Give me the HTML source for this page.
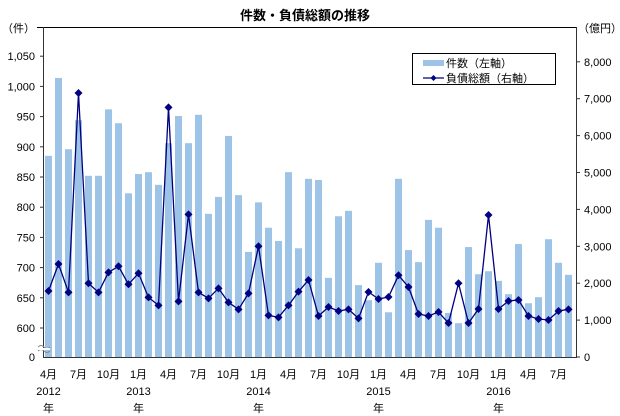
<!DOCTYPE html><html><head><meta charset="utf-8"><style>body{margin:0;background:#fff}svg{display:block;font-family:"Liberation Sans","Noto Sans CJK JP",sans-serif}</style></head><body>
<svg id="s" width="620" height="416" xmlns="http://www.w3.org/2000/svg"></svg>
<script>
var bars=[885,1014,896,944,852,852,962,939,823,855,858,837,906,951,906,953,789,817,918,820,726,808,766,744,858,732,847,845,683,785,794,671,646,708,626,847,729,709,779,766,625,608,734,689,694,678,656,739,641,651,747,708,688];
var debt=[1789,2520,1753,7155,1997,1753,2295,2458,1970,2268,1617,1400,6766,1509,3866,1753,1590,1861,1481,1292,1725,3000,1129,1075,1400,1770,2087,1111,1355,1247,1292,1047,1762,1572,1626,2214,1897,1165,1111,1219,921,1997,921,1301,3848,1301,1518,1545,1111,1030,1003,1247,1292];
var h='';
function yl(v){return 328-(v-600)*0.604}
function yr(v){return 357-v*0.0369}
function cx(i){return 48.5+10*i}
h+='<line x1="37" y1="27.5" x2="577" y2="27.5" stroke="#000"/>';
h+='<text x="305" y="20" font-size="13" font-weight="bold" text-anchor="middle">件数・負債総額の推移</text>';
h+='<text x="2" y="32" font-size="11">（件）</text><text x="578" y="32" font-size="11">（億円）</text>';
for(var i=0;i<bars.length;i++){h+='<rect x="'+(cx(i)-3.5)+'" y="'+yl(bars[i])+'" width="7" height="'+(357-yl(bars[i]))+'" fill="#9dc3e6"/>';}
h+='<line x1="43.5" y1="27" x2="43.5" y2="357" stroke="#333"/><line x1="576.5" y1="27" x2="576.5" y2="357" stroke="#333"/><line x1="43" y1="357.5" x2="577" y2="357.5" stroke="#333"/>';
var L=[[600,'600'],[650,'650'],[700,'700'],[750,'750'],[800,'800'],[850,'850'],[900,'900'],[950,'950'],[1000,'1,000'],[1050,'1,050']];
L.forEach(function(a){var y=yl(a[0]);h+='<line x1="40" y1="'+y+'" x2="43" y2="'+y+'" stroke="#333"/><text x="35" y="'+(y+4)+'" font-size="11" text-anchor="end">'+a[1]+'</text>';});
h+='<text x="35" y="361" font-size="11" text-anchor="end">0</text>';
for(var k=0;k<=8;k++){var y=yr(k*1000);h+='<line x1="577" y1="'+y+'" x2="580" y2="'+y+'" stroke="#333"/><text x="584" y="'+(y+4)+'" font-size="11">'+(k?k+',000':'0')+'</text>';}
h+='<path d="M38 347 q3 -3 6 0 t6 0 M38 351 q3 -3 6 0 t6 0" stroke="#888" fill="none"/><rect x="38" y="348" width="12" height="2" fill="#fff"/>';
var p='';for(i=0;i<debt.length;i++)p+=(i?'L':'M')+cx(i)+' '+yr(debt[i]);
h+='<path d="'+p+'" stroke="#000080" stroke-width="1.3" fill="none"/>';
for(i=0;i<debt.length;i++){var x=cx(i),y=yr(debt[i]);h+='<path d="M'+x+' '+(y-4)+'L'+(x+4)+' '+y+'L'+x+' '+(y+4)+'L'+(x-4)+' '+y+'Z" fill="#000080"/>';}
var m=['4月','7月','10月','1月'];
for(i=0;i<53;i+=3){h+='<text x="'+cx(i)+'" y="378" font-size="11" text-anchor="middle">'+m[(i/3)%4]+'</text>';}
[[0,2012],[9,2013],[21,2014],[33,2015],[45,2016]].forEach(function(a){var x=cx(a[0]);h+='<text x="'+x+'" y="395" font-size="11" text-anchor="middle">'+a[1]+'</text><text x="'+x+'" y="412" font-size="11" text-anchor="middle">年</text>';});
h+='<rect x="412.5" y="53.5" width="143" height="31" fill="#fff" stroke="#000"/>';
h+='<rect x="423" y="60" width="21" height="6" fill="#9dc3e6"/><text x="446" y="67" font-size="11">件数（左軸）</text>';
h+='<line x1="423" y1="78" x2="444" y2="78" stroke="#000080" stroke-width="1.3"/><path d="M433.5 75L436.5 78L433.5 81L430.5 78Z" fill="#000080"/><text x="446" y="82" font-size="11">負債総額（右軸）</text>';
document.getElementById('s').innerHTML=h;
</script></body></html>
